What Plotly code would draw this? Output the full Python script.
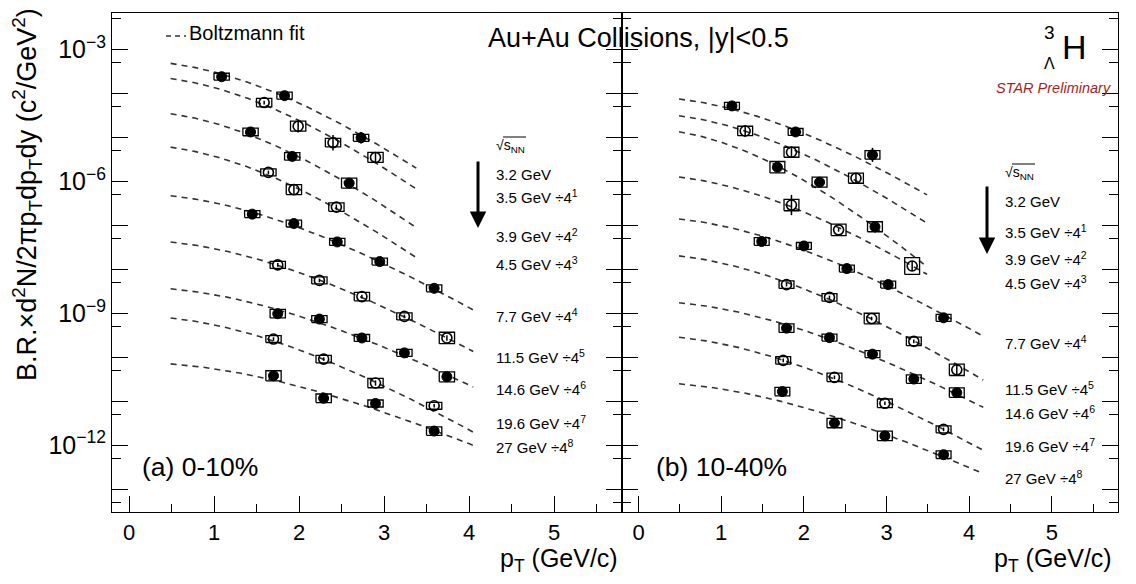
import numpy as np
import plotly.graph_objects as go

# ---------------- data ----------------
M_HT = 2.991  # hypertriton mass (GeV/c^2)

ENERGY_LABELS = ["3.2 GeV", "3.5 GeV ÷4<sup>1</sup>", "3.9 GeV ÷4<sup>2</sup>",
                 "4.5 GeV ÷4<sup>3</sup>", "7.7 GeV ÷4<sup>4</sup>", "11.5 GeV ÷4<sup>5</sup>",
                 "14.6 GeV ÷4<sup>6</sup>", "19.6 GeV ÷4<sup>7</sup>", "27 GeV ÷4<sup>8</sup>"]
FILLED = [True, False, True, False, True, False, True, False, True]

# (a) 0-10%
PT_A = [[1.09, 1.83, 2.73],
        [1.59, 1.99, 2.40, 2.90],
        [1.43, 1.92, 2.59],
        [1.64, 1.94, 2.44],
        [1.45, 1.94, 2.45, 2.95, 3.59],
        [1.75, 2.24, 2.74, 3.24, 3.74],
        [1.75, 2.24, 2.74, 3.24, 3.74],
        [1.70, 2.29, 2.90, 3.59],
        [1.70, 2.29, 2.90, 3.59]]
Y_A = [[2.4e-4, 8.9e-5, 9.8e-6],
       [6.2e-5, 1.8e-5, 7.6e-6, 3.5e-6],
       [1.33e-5, 3.7e-6, 9.1e-7],
       [1.6e-6, 6.5e-7, 2.6e-7],
       [1.8e-7, 1.1e-7, 4.2e-8, 1.5e-8, 3.7e-9],
       [1.26e-8, 5.6e-9, 2.4e-9, 8.5e-10, 2.75e-10],
       [9.8e-10, 7.4e-10, 2.75e-10, 1.26e-10, 3.6e-11],
       [2.6e-10, 9.1e-11, 2.6e-11, 7.9e-12],
       [3.8e-11, 1.17e-11, 8.9e-12, 2.1e-12]]
SYS_A = [[0.2, 0.2, 0.2],
         [0.25, 0.3, 0.25, 0.3],
         [0.22, 0.22, 0.3],
         [0.2, 0.3, 0.25],
         [0.2, 0.2, 0.2, 0.2, 0.2],
         [0.2, 0.2, 0.25, 0.2, 0.35],
         [0.25, 0.2, 0.2, 0.2, 0.3],
         [0.2, 0.22, 0.28, 0.2],
         [0.3, 0.25, 0.2, 0.25]]
STAT_A = [[0.1, 0.1, 0.35],
          [0.1, 0.4, 0.5, 0.3],
          [0.1, 0.1, 0.25],
          [0.1, 0.25, 0.15],
          [0.1, 0.1, 0.1, 0.1, 0.1],
          [0.1, 0.1, 0.1, 0.1, 0.15],
          [0.3, 0.1, 0.1, 0.1, 0.2],
          [0.1, 0.1, 0.15, 0.1],
          [0.3, 0.2, 0.1, 0.1]]
FIT_LOGA_A = [-3.254, -3.594, -4.392, -5.155, -6.277, -7.330, -8.400, -9.056, -10.115]
FIT_T_A = [0.252, 0.240, 0.233, 0.240, 0.309, 0.321, 0.355, 0.309, 0.420]
FIT_PTMAX_A = [3.38, 3.38, 3.38, 3.38, 4.05, 4.05, 4.05, 4.05, 4.05]

# (b) 10-40%
PT_B = [[1.13, 1.90, 2.83],
        [1.29, 1.85, 2.63],
        [1.68, 2.19, 2.86],
        [1.85, 2.42, 3.31],
        [1.49, 2.00, 2.52, 3.02, 3.69],
        [1.79, 2.31, 2.82, 3.33, 3.85],
        [1.79, 2.31, 2.83, 3.33, 3.85],
        [1.75, 2.37, 2.98, 3.69],
        [1.74, 2.37, 2.98, 3.69]]
Y_B = [[5.2e-5, 1.33e-5, 4.0e-6],
       [1.4e-5, 4.6e-6, 1.18e-6],
       [2.1e-6, 9.6e-7, 9.3e-8],
       [2.9e-7, 7.9e-8, 1.19e-8],
       [4.3e-8, 3.4e-8, 1.04e-8, 4.5e-9, 7.9e-10],
       [4.5e-9, 2.3e-9, 7.6e-10, 2.3e-10, 5.2e-11],
       [4.6e-10, 2.8e-10, 1.18e-10, 3.2e-11, 1.57e-11],
       [8.5e-11, 3.5e-11, 9.0e-12, 2.3e-12],
       [1.66e-11, 3.2e-12, 1.63e-12, 6.1e-13]]
SYS_B = [[0.2, 0.2, 0.25],
         [0.28, 0.3, 0.3],
         [0.35, 0.3, 0.3],
         [0.35, 0.35, 0.55],
         [0.22, 0.2, 0.2, 0.2, 0.2],
         [0.22, 0.22, 0.32, 0.25, 0.35],
         [0.25, 0.2, 0.2, 0.25, 0.28],
         [0.22, 0.25, 0.25, 0.2],
         [0.25, 0.28, 0.28, 0.22]]
STAT_B = [[0.1, 0.1, 0.45],
          [0.35, 0.35, 0.3],
          [0.1, 0.3, 0.35],
          [0.7, 0.1, 0.3],
          [0.1, 0.1, 0.1, 0.1, 0.1],
          [0.1, 0.1, 0.1, 0.1, 0.3],
          [0.1, 0.1, 0.1, 0.1, 0.1],
          [0.1, 0.1, 0.1, 0.1],
          [0.1, 0.1, 0.1, 0.1]]
FIT_LOGA_B = [-4.072, -4.445, -4.794, -5.845, -6.805, -7.641, -8.715, -9.497, -10.566]
FIT_T_B = [0.288, 0.259, 0.209, 0.284, 0.315, 0.299, 0.350, 0.326, 0.402]
FIT_PTMAX_B = [3.49, 3.49, 3.49, 3.49, 4.17, 4.17, 4.17, 4.17, 4.17]
FIT_PTMIN = 0.49

BOX_HALF_WIDTH = 0.09

# ---------------- figure ----------------
W, H = 1136, 584
FONT = "Liberation Sans, Arial, Helvetica, sans-serif"
fig = go.Figure()


def px_x(p):
    return p / W


def px_y(p):
    return 1 - p / H


def add_panel(pts, ys, syss, stats, logas, temps, ptmaxs, xa, ya):
    for i in range(len(pts)):
        # Boltzmann fit
        pt = np.linspace(FIT_PTMIN, ptmaxs[i], 80)
        mt = np.sqrt(pt ** 2 + M_HT ** 2)
        fy = 10 ** (logas[i] + np.log10(mt / M_HT) - (mt - M_HT) / (temps[i] * np.log(10)))
        fig.add_trace(go.Scatter(x=pt, y=fy, mode="lines", xaxis=xa, yaxis=ya,
                                 line=dict(color="#333333", width=1.6, dash="6px,5px"),
                                 hoverinfo="skip", showlegend=False))
        # systematic boxes
        bx, by = [], []
        for x, y, s in zip(pts[i], ys[i], syss[i]):
            lo, hi = y / (1 + s), y * (1 + s)
            bx += [x - BOX_HALF_WIDTH, x + BOX_HALF_WIDTH, x + BOX_HALF_WIDTH,
                   x - BOX_HALF_WIDTH, x - BOX_HALF_WIDTH, None]
            by += [lo, lo, hi, hi, lo, None]
        fig.add_trace(go.Scatter(x=bx, y=by, mode="lines", xaxis=xa, yaxis=ya,
                                 line=dict(color="black", width=1.3),
                                 hoverinfo="skip", showlegend=False))
        # points with stat errors
        up = [y * st for y, st in zip(ys[i], stats[i])]
        dn = [y * st / (1 + st) for y, st in zip(ys[i], stats[i])]
        if FILLED[i]:
            mk = dict(symbol="circle", size=10, color="black", line=dict(color="black", width=1))
        else:
            mk = dict(symbol="circle-open", size=10, color="black", line=dict(color="black", width=1.6))
        fig.add_trace(go.Scatter(x=pts[i], y=ys[i], mode="markers", xaxis=xa, yaxis=ya,
                                 marker=mk,
                                 error_y=dict(type="data", array=up, arrayminus=dn,
                                              color="black", thickness=1.5, width=0),
                                 name=ENERGY_LABELS[i], showlegend=False))


add_panel(PT_A, Y_A, SYS_A, STAT_A, FIT_LOGA_A, FIT_T_A, FIT_PTMAX_A, "x", "y")
add_panel(PT_B, Y_B, SYS_B, STAT_B, FIT_LOGA_B, FIT_T_B, FIT_PTMAX_B, "x2", "y2")

# axes
YDOM = [px_y(512), px_y(13)]
decades = list(range(-13, -2))
ytv = [10.0 ** k for k in decades]
ytt = [("10<sup>−%d</sup>" % (-k)) if k in (-3, -6, -9, -12) else "" for k in decades]
ymin = [5 * 10.0 ** k for k in range(-14, -2)]

common_x = dict(range=[-0.2, 5.8], tickmode="array", tickvals=[0, 1, 2, 3, 4, 5],
                ticks="inside", ticklen=16, tickwidth=1.2, tickcolor="black",
                minor=dict(tickmode="array", tickvals=[0.5, 1.5, 2.5, 3.5, 4.5, 5.5],
                           ticks="inside", ticklen=8, tickwidth=1.2, tickcolor="black"),
                showline=True, linecolor="black", linewidth=1.2, mirror=True,
                showgrid=False, zeroline=False,
                tickfont=dict(family=FONT, size=22, color="black"))
common_y = dict(type="log", range=[-13.518, -2.171], domain=YDOM, tickmode="array",
                tickvals=ytv, ticktext=ytt, ticks="inside", ticklen=16, tickwidth=1.2,
                tickcolor="black",
                minor=dict(tickmode="array", tickvals=ymin, ticks="inside", ticklen=9,
                           tickwidth=1.2, tickcolor="black"),
                showline=True, linecolor="black", linewidth=1.2, mirror="ticks",
                showgrid=False, zeroline=False,
                tickfont=dict(family=FONT, size=25, color="black"))

fig.update_layout(
    width=W, height=H, margin=dict(l=0, r=0, t=0, b=0),
    paper_bgcolor="white", plot_bgcolor="white",
    font=dict(family=FONT, color="black"),
    xaxis=dict(domain=[px_x(112), px_x(622)], anchor="y", **common_x),
    xaxis2=dict(domain=[px_x(622), px_x(1118)], anchor="y2", **common_x),
    yaxis=dict(anchor="x", **common_y),
    yaxis2=dict(anchor="x2", showticklabels=False, **common_y),
    showlegend=False,
)

ann = []


def txt(x, y, s, size, xanchor="left", color="black", **kw):
    ann.append(dict(x=px_x(x), y=px_y(y), xref="paper", yref="paper", text=s,
                    showarrow=False, xanchor=xanchor, yanchor="middle",
                    font=dict(family=FONT, size=size, color=color), **kw))


# y-axis title
txt(27, 195, "B.R.×d<sup>2</sup>N/2πp<sub>T</sub>dp<sub>T</sub>dy (c<sup>2</sup>/GeV<sup>2</sup>)",
    27, xanchor="center", textangle=-90)
# x-axis titles
txt(620, 560, "p<sub>T</sub> (GeV/c)", 25, xanchor="right")
txt(1114, 560, "p<sub>T</sub> (GeV/c)", 25, xanchor="right")
# header texts
txt(187, 33, "Boltzmann fit", 20)
txt(638, 38, "Au+Au Collisions, |y|<0.5", 27, xanchor="center")
txt(1074, 47, "H", 34, xanchor="center")
txt(1049, 33, "3", 19, xanchor="center")
txt(1049, 63, "Λ", 16, xanchor="center")
txt(1053, 88, "<i>STAR Preliminary</i>", 14.5, xanchor="center", color="#a31f24")
# panel labels
txt(140, 467, "(a) 0-10%", 26.5)
txt(654, 467, "(b) 10-40%", 26.5)

# energy labels
LAB_Y_A = [175, 197, 235, 263, 315, 357, 388, 422, 446]
LAB_Y_B = [202, 231, 258, 282, 342, 388, 412, 445, 477]
for lab, ya_, yb_ in zip(ENERGY_LABELS, LAB_Y_A, LAB_Y_B):
    txt(494, ya_, lab, 15)
    txt(1003, yb_, lab, 15)
txt(494, 146, "√s<sub>NN</sub>", 14)
txt(1003, 173, "√s<sub>NN</sub>", 14)

# arrows
for (xa_, y0, y1) in [(478, 160, 228), (987, 185, 254)]:
    ann.append(dict(x=px_x(xa_), y=px_y(y1), xref="paper", yref="paper",
                    ax=0, ay=-(y1 - y0), axref="pixel", ayref="pixel",
                    text="", showarrow=True, arrowhead=2, arrowsize=1.1,
                    arrowwidth=3, arrowcolor="black"))

fig.update_layout(annotations=ann)

# legend sample for fit line
fig.add_shape(type="line", xref="paper", yref="paper", x0=px_x(166), x1=px_x(186),
              y0=px_y(36), y1=px_y(36), line=dict(color="#333333", width=1.6, dash="5px,4px"))
# radical overlines for sqrt(s_NN)
for (x0, x1, yy) in [(503, 526, 137), (1012, 1035, 164)]:
    fig.add_shape(type="line", xref="paper", yref="paper", x0=px_x(x0), x1=px_x(x1),
                  y0=px_y(yy), y1=px_y(yy), line=dict(color="black", width=1))

fig.write_html("out.html")
